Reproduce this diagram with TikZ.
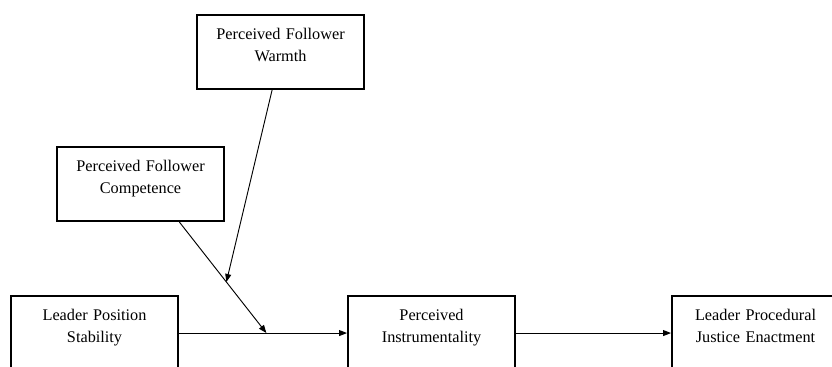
\documentclass[tikz,border=0pt]{standalone}
\usepackage{fontspec}
\setmainfont{Liberation Serif}
\usetikzlibrary{arrows.meta,positioning,calc}

\begin{document}
\begin{tikzpicture}[x=0.75pt, y=-0.75pt]
    \tikzstyle{construct} = [rectangle, draw, line width=1.8pt, text width=125pt, inner xsep=0pt, inner ysep=10pt, align=center, font=\fontsize{12.2}{16.5}\selectfont, execute at end node={\rule[-10.3pt]{0pt}{10.3pt}}]
    \tikzstyle{link} = [line width=0.7pt, -{Triangle[length=6pt,width=4.5pt]}]

    \useasboundingbox (0,0) rectangle (832,367);
    \clip (0,0) rectangle (832,367);

    % Moderators
    \node [construct, anchor=north west] (warmth) at (196,14) {Perceived Follower\\Warmth};
    \node [construct, anchor=north west] (competence) at (56,146) {Perceived Follower\\Competence};

    % Main path
    \node [construct, anchor=north west] (stability) at (10,295) {Leader Position\\Stability};
    \node [construct, anchor=north west] (instrumentality) at (347,295) {Perceived\\Instrumentality};
    \node [construct, anchor=north west] (enactment) at (671,295) {Leader Procedural\\Justice Enactment};

    % Points where the moderators meet the paths
    \coordinate (compout) at ($(competence.south west)!0.73!(competence.south east)$);
    \coordinate (warmout) at ($(warmth.south west)!0.45!(warmth.south east)$);
    \coordinate (modpath) at ($(stability.east)!0.52!(instrumentality.west)$);
    \coordinate (modcomp) at ($(compout)!0.54!(modpath)$);

    % Arrows
    \draw [link] (stability.east) -- (instrumentality.west);
    \draw [link] (instrumentality.east) -- (enactment.west);
    \draw [link] (compout) -- (modpath);
    \draw [link] (warmout) -- (modcomp);
\end{tikzpicture}
\end{document}
